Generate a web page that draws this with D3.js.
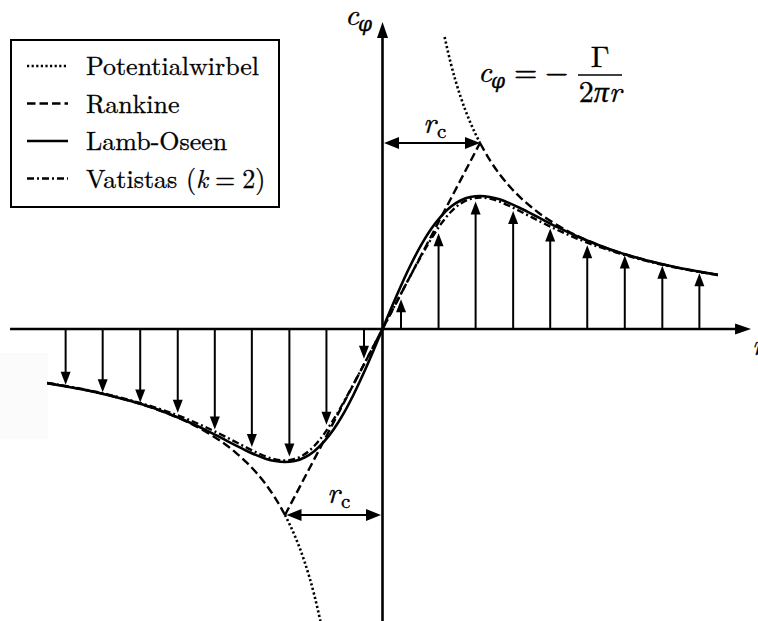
<!DOCTYPE html>
<html>
<head>
<meta charset="utf-8">
<script src="https://cdn.jsdelivr.net/npm/d3@7"></script>
<style>
  html, body { margin: 0; padding: 0; background: #fff; }
  svg { display: block; }
</style>
</head>
<body>
<svg id="chart" width="758" height="621"></svg>
<script>
// Radial positions r / r_c and tangential velocities c_phi / (Gamma / (2 pi r_c))
const rGrid = [0, 0.1, 0.2, 0.3, 0.4, 0.5, 0.6, 0.7, 0.8, 0.9, 1.0, 1.1, 1.2, 1.3, 1.4, 1.5, 1.6, 1.8, 2.0, 2.2, 2.4, 2.6, 2.8, 3.0, 3.2, 3.44];
const lambOseen = [0, 0.125, 0.245, 0.356, 0.455, 0.539, 0.606, 0.657, 0.691, 0.710, 0.715, 0.710, 0.697, 0.677, 0.653, 0.627, 0.600, 0.546, 0.497, 0.454, 0.416, 0.385, 0.357, 0.333, 0.313, 0.291];
const vatistas = [0, 0.100, 0.200, 0.299, 0.395, 0.485, 0.565, 0.629, 0.674, 0.699, 0.707, 0.701, 0.685, 0.662, 0.636, 0.609, 0.582, 0.531, 0.485, 0.445, 0.411, 0.381, 0.354, 0.331, 0.311, 0.290];

// Rankine: solid-body core and potential-flow outer region
const rankineCoreR = [-1.0, 0, 1.0];
const rankineCoreC = [-1.0, 0, 1.0];
const rankineOuterR = [1.0, 1.1, 1.2, 1.3, 1.4, 1.5, 1.6, 1.8, 2.0, 2.2, 2.4, 2.6, 2.8, 3.0, 3.2, 3.44];
const rankineOuterC = [1.0, 0.909, 0.833, 0.769, 0.714, 0.667, 0.625, 0.556, 0.500, 0.455, 0.417, 0.385, 0.357, 0.333, 0.3125, 0.291];

// Potential vortex inside the core
const potR = [0.637, 0.7, 0.8, 0.9, 1.0];
const potC = [1.570, 1.429, 1.250, 1.111, 1.000];

// Velocity vectors
const arrowR = [0.19, 0.575, 0.955, 1.34, 1.72, 2.10, 2.485, 2.87, 3.25];
const arrowC = [0.16, 0.515, 0.685, 0.635, 0.54, 0.45, 0.395, 0.34, 0.30];

// Axis extents (same units)
const axisR = [-3.82, 3.78];
const axisC = [-1.62, 1.65];

const legendLabels = ["Potentialwirbel", "Rankine", "Lamb-Oseen", "Vatistas"];

const ROMAN = "'Latin Modern Roman', 'Liberation Serif', serif";
const GREEK = "'DejaVu Serif', serif";

const svg = d3.select("#chart");
const x = d3.scaleLinear().domain([-1, 1]).range([285, 480]);
const y = d3.scaleLinear().domain([-1, 1]).range([515, 143]);

const DASH = "8.5,4", DOT = "2.2,2.4", DASHDOT = "7,3,2,3";

// faint patch at the far left
svg.append("rect").attr("x", x(-3.95)).attr("y", y(-0.13))
  .attr("width", x(-3.43) - x(-3.95)).attr("height", y(-0.59) - y(-0.13))
  .attr("fill", "#fbfbfb");

function head(tx, ty, dx, dy, len, half) {
  const bx = tx - dx * len, by = ty - dy * len;
  const px = -dy, py = dx;
  return `M${tx},${ty}L${bx + px * half},${by + py * half}L${bx - px * half},${by - py * half}Z`;
}

function arrow(g, x1, y1, x2, y2, len, half, sw) {
  const L = Math.hypot(x2 - x1, y2 - y1);
  const dx = (x2 - x1) / L, dy = (y2 - y1) / L;
  g.append("line").attr("x1", x1).attr("y1", y1)
    .attr("x2", x2 - dx * (len - 1)).attr("y2", y2 - dy * (len - 1))
    .attr("stroke", "#000").attr("stroke-width", sw);
  g.append("path").attr("d", head(x2, y2, dx, dy, len, half)).attr("fill", "#000");
}

// Axes
const axes = svg.append("g");
arrow(axes, x(axisR[0]), y(0), x(axisR[1]), y(0), 16, 5.5, 2.6);
arrow(axes, x(0), y(axisC[0]), x(0), y(axisC[1]), 16, 5.5, 2.6);

// Velocity vectors (both halves)
const vec = svg.append("g");
arrowR.forEach((r, i) => {
  arrow(vec, x(r), y(0), x(r), y(arrowC[i]), 13, 5, 2);
  arrow(vec, x(-r), y(0), x(-r), y(-arrowC[i]), 13, 5, 2);
});

// Curves
const lineLin = d3.line().x(d => x(d[0])).y(d => y(d[1]));
const lineMono = d3.line().x(d => x(d[0])).y(d => y(d[1])).curve(d3.curveMonotoneX);

function pairs(rs, cs) { return rs.map((r, i) => [r, cs[i]]); }
function mirrored(rs, cs) { return rs.map((r, i) => [-r, -cs[i]]).reverse(); }
function fullSeries(rs, cs) { return mirrored(rs, cs).concat(pairs(rs, cs).slice(1)); }

const curves = svg.append("g").attr("fill", "none").attr("stroke", "#000");

// Potential vortex (dotted)
[pairs(potR, potC), mirrored(potR, potC)].forEach(pts => {
  curves.append("path").attr("d", lineMono(pts))
    .attr("stroke-width", 2.6).attr("stroke-dasharray", DOT);
});

// Rankine (dashed)
curves.append("path").attr("d", lineLin(pairs(rankineCoreR, rankineCoreC)))
  .attr("stroke-width", 2.4).attr("stroke-dasharray", DASH);
[pairs(rankineOuterR, rankineOuterC), mirrored(rankineOuterR, rankineOuterC)].forEach(pts => {
  curves.append("path").attr("d", lineMono(pts))
    .attr("stroke-width", 2.4).attr("stroke-dasharray", DASH);
});

// Lamb-Oseen (solid)
curves.append("path").attr("d", lineMono(fullSeries(rGrid, lambOseen)))
  .attr("stroke-width", 2.6);

// Vatistas k = 2 (dash-dot)
curves.append("path").attr("d", lineMono(fullSeries(rGrid, vatistas)))
  .attr("stroke-width", 2.4).attr("stroke-dasharray", DASHDOT);

// Core radius markers
const rc = svg.append("g");
function doubleArrow(xa, xb, yy) {
  const len = 15, half = 6;
  rc.append("line").attr("x1", xa + len - 1).attr("x2", xb - len + 1)
    .attr("y1", yy).attr("y2", yy).attr("stroke", "#000").attr("stroke-width", 2.2);
  rc.append("path").attr("d", head(xa, yy, -1, 0, len, half)).attr("fill", "#000");
  rc.append("path").attr("d", head(xb, yy, 1, 0, len, half)).attr("fill", "#000");
}
doubleArrow(x(0) + 1.5, x(1), y(1));
doubleArrow(x(-1) + 1.5, x(0) - 1.5, y(-1));

function txt(px, py, s, size, opts = {}) {
  return svg.append("text").attr("x", px).attr("y", py).attr("font-size", size)
    .attr("font-family", opts.family || ROMAN)
    .attr("font-style", opts.italic ? "italic" : "normal")
    .attr("text-anchor", opts.anchor || "start")
    .attr("fill", "#000").attr("stroke", "#000").attr("stroke-width", 0.35)
    .text(s);
}

// r_c labels
txt(423, y(1) - 10, "r", 30, { italic: true });
txt(437, y(1) - 5, "c", 21);
txt(327, y(-1) - 12, "r", 30, { italic: true });
txt(341, y(-1) - 7, "c", 21);

// Axis labels
txt(345, 25, "c", 30, { italic: true });
txt(358, 31, "φ", 20, { italic: true, family: GREEK });
txt(752, 355, "r", 30, { italic: true });

// Formula c_phi = -Gamma / (2 pi r)
txt(478, 82, "c", 30, { italic: true });
txt(491, 88, "φ", 20, { italic: true, family: GREEK });
txt(514, 82, "=", 30);
txt(545, 82, "−", 30);
txt(600, 67, "Γ", 30, { anchor: "middle" });
svg.append("line").attr("x1", 578).attr("x2", 622).attr("y1", 75).attr("y2", 75)
  .attr("stroke", "#000").attr("stroke-width", 1.5);
const den = txt(600, 102, "", 30, { anchor: "middle" });
den.append("tspan").text("2");
den.append("tspan").attr("font-style", "italic").text("πr");

// Legend
const lg = svg.append("g");
lg.append("rect").attr("x", 11).attr("y", 40).attr("width", 268).attr("height", 167)
  .attr("fill", "#fff").attr("stroke", "#000").attr("stroke-width", 2);
const styles = [
  { dash: DOT, w: 2.4 },
  { dash: DASH, w: 2.4 },
  { dash: null, w: 2.6 },
  { dash: DASHDOT, w: 2.4 }
];
legendLabels.forEach((lab, i) => {
  const base = 75 + i * 37.5;
  const ln = lg.append("line").attr("x1", 27).attr("x2", 68)
    .attr("y1", base - 9).attr("y2", base - 9)
    .attr("stroke", "#000").attr("stroke-width", styles[i].w);
  if (styles[i].dash) ln.attr("stroke-dasharray", styles[i].dash);
  const t = lg.append("text").attr("x", 86).attr("y", base).attr("font-size", 26)
    .attr("font-family", ROMAN).attr("fill", "#000")
    .attr("stroke", "#000").attr("stroke-width", 0.3);
  t.append("tspan").text(lab);
  if (i === 3) {
    t.append("tspan").text(" (");
    t.append("tspan").attr("font-style", "italic").text("k");
    t.append("tspan").attr("dx", 7).text("=");
    t.append("tspan").attr("dx", 7).text("2)");
  }
});
</script>
</body>
</html>
